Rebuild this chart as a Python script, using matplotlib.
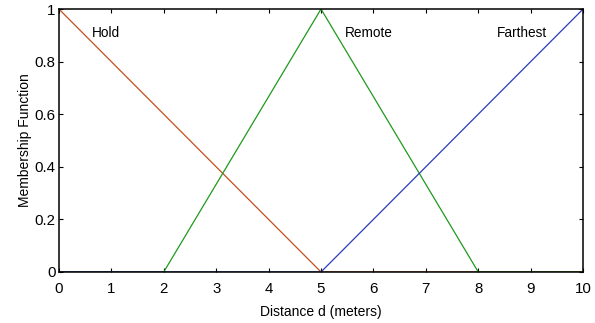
import matplotlib as mpl
import matplotlib.pyplot as plt

mpl.rcParams['font.family'] = ['Liberation Sans', 'DejaVu Sans']

# Membership function breakpoints (distance in meters)
hold_x = [0, 5, 10]
hold_y = [1, 0, 0]
remote_x = [0, 2, 5, 8, 10]
remote_y = [0, 0, 1, 0, 0]
farthest_x = [0, 5, 10]
farthest_y = [0, 0, 1]

labels = ["Hold", "Remote", "Farthest"]
label_pos = [(0.62, 0.91), (5.45, 0.91), (8.35, 0.91)]

fig = plt.figure(figsize=(5.95, 3.23), dpi=100)
ax = fig.add_axes([0.099, 0.158, 0.881, 0.814])

ax.plot(hold_x, hold_y, color="#c0501e", lw=0.9)
ax.plot(remote_x, remote_y, color="#1e9a1e", lw=0.9)
ax.plot(farthest_x, farthest_y, color="#2a3cb8", lw=0.9)

for text, (x, y) in zip(labels, label_pos):
    ax.text(x, y, text, fontsize=9.8, va="center", ha="left")

ax.set_xlim(0, 10)
ax.set_ylim(0, 1)
ax.set_xticks(range(0, 11))
ax.set_yticks([0, 0.2, 0.4, 0.6, 0.8, 1])
ax.set_yticklabels(["0", "0.2", "0.4", "0.6", "0.8", "1"])
ax.tick_params(direction="in", top=True, right=True, labelsize=10.8, length=3, width=0.8)
ax.tick_params(axis="x", pad=7.5)
ax.tick_params(axis="y", pad=2.5)
for s in ax.spines.values():
    s.set_linewidth(1.1)

ax.set_xlabel("Distance d (meters)", fontsize=10, labelpad=6.5)
ax.set_ylabel("Membership Function", fontsize=10, labelpad=1.5)

fig.savefig("out.png", dpi=100)
